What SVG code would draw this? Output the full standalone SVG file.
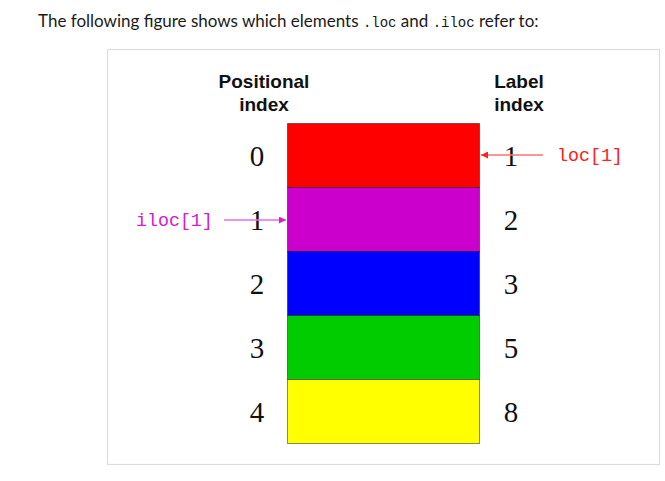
<svg xmlns="http://www.w3.org/2000/svg" width="665" height="481" viewBox="0 0 665 481">
<defs>
<style>
.t{font-family:Lato,"Liberation Sans",sans-serif;font-size:17px;fill:#1a1a1a}
.m{font-family:"Liberation Mono","DejaVu Sans Mono",monospace;font-size:14px}
.h{font-family:"Liberation Sans",Arial,sans-serif;font-weight:bold;font-size:19px;fill:#111;text-anchor:middle}
.d{font-family:"Liberation Serif","Times New Roman",serif;font-size:29px;fill:#111;text-anchor:middle}
.cell{stroke:#000;stroke-opacity:0.45;stroke-width:1}
.code{font-family:"Liberation Mono","DejaVu Sans Mono",monospace;font-size:18.3px}
</style>
<marker id="arR" viewBox="0 0 10 10" refX="10" refY="5" markerWidth="7" markerHeight="7" orient="auto" markerUnits="userSpaceOnUse">
<path d="M0,0 L10,5 L0,10 z" fill="#ff2020"/>
</marker>
<marker id="arM" viewBox="0 0 10 10" refX="10" refY="5" markerWidth="7" markerHeight="7" orient="auto" markerUnits="userSpaceOnUse">
<path d="M0,0 L10,5 L0,10 z" fill="#d020d0"/>
</marker>
</defs>
<rect width="665" height="481" fill="#fff"/>
<text class="t" x="38" y="27">The following figure shows which elements <tspan class="m">.loc</tspan> and <tspan class="m">.iloc</tspan> refer to:</text>
<rect x="107.5" y="49.5" width="552" height="415" fill="#fff" stroke="#dcdce0" stroke-width="1.2"/>
<g id="headers">
<text class="h" x="264" y="88">Positional</text>
<text class="h" x="264" y="111">index</text>
<text class="h" x="519" y="88">Label</text>
<text class="h" x="519" y="111">index</text>
</g>
<g id="row0"><rect class="cell" x="287.5" y="123.5" width="192" height="64" fill="#ff0000"/><text class="d" x="257" y="166">0</text><text class="d" x="511" y="166">1</text></g>
<g id="row1"><rect class="cell" x="287.5" y="187.5" width="192" height="64" fill="#cc00cc"/><text class="d" x="257" y="230">1</text><text class="d" x="511" y="230">2</text></g>
<g id="row2"><rect class="cell" x="287.5" y="251.5" width="192" height="64" fill="#0000ff"/><text class="d" x="257" y="294">2</text><text class="d" x="511" y="294">3</text></g>
<g id="row3"><rect class="cell" x="287.5" y="315.5" width="192" height="64" fill="#00cc00"/><text class="d" x="257" y="358">3</text><text class="d" x="511" y="358">5</text></g>
<g id="row4"><rect class="cell" x="287.5" y="379.5" width="192" height="64" fill="#ffff00"/><text class="d" x="257" y="422">4</text><text class="d" x="511" y="422">8</text></g>
<g id="connectors">
<line x1="543" y1="155" x2="481" y2="155" stroke="#ff7070" stroke-width="1.5" marker-end="url(#arR)"/>
<line x1="224" y1="220" x2="286" y2="220" stroke="#e070e0" stroke-width="1.5" marker-end="url(#arM)"/>
</g>
<g id="labels">
<text class="code" x="557" y="161" fill="#ff2020">loc[1]</text>
<text class="code" x="136" y="226" fill="#d020d0">iloc[1]</text>
</g>
</svg>
